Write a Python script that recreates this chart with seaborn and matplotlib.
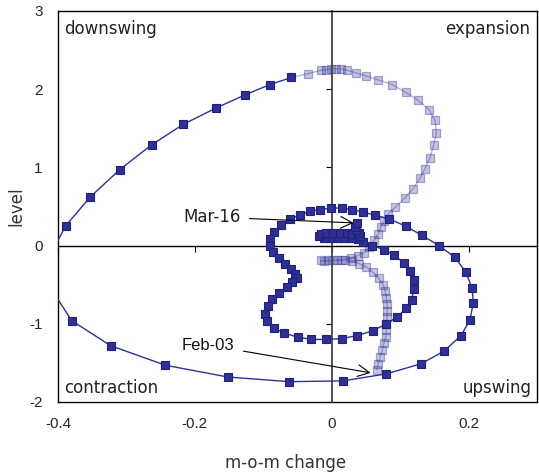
import matplotlib
matplotlib.use("Agg")
import matplotlib.pyplot as plt
import seaborn as sns
import pandas as pd

# ---------------- data ----------------
light_x = [0.066, 0.068, 0.0705, 0.074, 0.076, 0.079, 0.080, 0.080, 0.081, 0.081, 0.081,
           0.080, 0.078, 0.075, 0.069, 0.060, 0.050, 0.040, 0.030, 0.020, 0.008, -0.005,
           -0.016, -0.012, 0.002, 0.015, 0.028, 0.038, 0.047, 0.055, 0.062, 0.068, 0.072,
           0.077, 0.082, 0.093, 0.107, 0.119, 0.129, 0.136, 0.1435, 0.149, 0.153, 0.151,
           0.142, 0.126, 0.108, 0.088, 0.068, 0.050, 0.035, 0.023, 0.013, 0.006, -0.0015,
           -0.008, -0.016, -0.034]
light_y = [-1.59, -1.51, -1.43, -1.34, -1.25, -1.17, -1.08, -1.00, -0.91, -0.83, -0.75,
           -0.67, -0.58, -0.50, -0.42, -0.34, -0.27, -0.23, -0.20, -0.18, -0.19, -0.19,
           -0.19, -0.20, -0.19, -0.18, -0.16, -0.13, -0.09, -0.02, 0.07, 0.15, 0.24,
           0.32, 0.40, 0.49, 0.61, 0.73, 0.86, 0.98, 1.12, 1.29, 1.44, 1.60,
           1.74, 1.86, 1.96, 2.06, 2.12, 2.17, 2.21, 2.24, 2.26, 2.26, 2.26,
           2.25, 2.24, 2.20]

dark_x = [-0.059, -0.090, -0.126, -0.169, -0.217, -0.263, -0.310, -0.353, -0.389, -0.425,
          -0.380, -0.323, -0.243, -0.152, -0.062, 0.0165, 0.080, 0.131, 0.164, 0.189,
          0.202, 0.207, 0.205, 0.196, 0.180, 0.157, 0.132, 0.108, 0.084, 0.063,
          0.045, 0.030, 0.0146, -0.0015, -0.017, -0.032, -0.046, -0.061, -0.074, -0.084,
          -0.090, -0.090, -0.086, -0.077, -0.068, -0.059, -0.053, -0.051, -0.058, -0.066,
          -0.077, -0.087, -0.093, -0.097, -0.094, -0.085, -0.069, -0.050, -0.030, -0.008,
          0.015, 0.037, 0.060, 0.080, 0.096, 0.109, 0.117, 0.120, 0.120, 0.114,
          0.105, 0.091, 0.076, 0.059, 0.045, 0.038, 0.028, 0.018, 0.008, -0.002,
          -0.012, -0.018, -0.016, -0.008, 0.002, 0.012, 0.022, 0.030, 0.038, 0.042,
          0.040, 0.036, 0.034, 0.037]
dark_y = [2.15, 2.06, 1.93, 1.76, 1.55, 1.29, 0.97, 0.62, 0.25, -0.35,
          -0.96, -1.28, -1.53, -1.68, -1.74, -1.73, -1.64, -1.51, -1.35, -1.15,
          -0.95, -0.73, -0.54, -0.34, -0.15, 0.00, 0.13, 0.25, 0.34, 0.39,
          0.43, 0.46, 0.48, 0.48, 0.46, 0.44, 0.39, 0.34, 0.26, 0.17,
          0.09, 0.00, -0.08, -0.16, -0.23, -0.30, -0.36, -0.41, -0.46, -0.53,
          -0.61, -0.68, -0.77, -0.87, -0.97, -1.05, -1.12, -1.17, -1.20, -1.20,
          -1.19, -1.15, -1.09, -1.00, -0.91, -0.80, -0.69, -0.56, -0.44, -0.32,
          -0.22, -0.12, -0.05, 0.00, 0.05, 0.09, 0.10, 0.10, 0.10, 0.10,
          0.10, 0.12, 0.15, 0.16, 0.165, 0.165, 0.16, 0.15, 0.14, 0.12,
          0.16, 0.20, 0.24, 0.29]

x_ticks = [-0.4, -0.2, 0, 0.2]
x_tick_labels = ["-0.4", "-0.2", "0", "0.2"]
y_ticks = [-2, -1, 0, 1, 2, 3]
y_tick_labels = ["-2", "-1", "0", "1", "2", "3"]

quadrants = {"downswing": (0.012, 0.940, "left"),
             "expansion": (0.985, 0.940, "right"),
             "contraction": (0.012, 0.023, "left"),
             "upswing": (0.989, 0.023, "right")}

start_label, end_label = "Feb-03", "Mar-16"

light_df = pd.DataFrame({"x": light_x, "y": light_y})
dark_df = pd.DataFrame({"x": dark_x, "y": dark_y})
conn_df = pd.DataFrame({"x": [light_x[-1], dark_x[0]], "y": [light_y[-1], dark_y[0]]})

# ---------------- style ----------------
sns.set_theme(style="white")
plt.rcParams["font.family"] = ["DejaVu Sans"]

navy = "#2E3192"
navy_edge = "#1E1F7E"
light_face = (0.18, 0.19, 0.57, 0.28)
light_edge = (0.18, 0.19, 0.57, 0.38)
light_line = (0.18, 0.19, 0.57, 0.35)

fig = plt.figure(figsize=(5.39, 4.74), dpi=100)
ax = fig.add_axes([0.1076, 0.1519, 0.9963 - 0.1076, 0.9768 - 0.1519])
ax.set_xlim(-0.4, 0.3)
ax.set_ylim(-2, 3)

# light (earlier) series
sns.lineplot(data=conn_df, x="x", y="y", sort=False, estimator=None, ax=ax,
             color=light_line, lw=1.0, zorder=2)
sns.lineplot(data=light_df, x="x", y="y", sort=False, estimator=None, ax=ax,
             color=light_line, lw=1.0, marker="s", markersize=6.2,
             markerfacecolor=light_face, markeredgecolor=light_edge,
             markeredgewidth=0.9, zorder=2)
# dark series
sns.lineplot(data=dark_df, x="x", y="y", sort=False, estimator=None, ax=ax,
             color=navy, lw=1.0, marker="s", markersize=6.2,
             markerfacecolor=navy, markeredgecolor=navy_edge,
             markeredgewidth=0.8, zorder=3)

# axes through zero with small ticks, labels at the frame
ax.spines["left"].set_position(("data", 0))
ax.spines["bottom"].set_position(("data", 0))
ax.spines["left"].set_color("#444444")
ax.spines["left"].set_linewidth(1.3)
ax.spines["bottom"].set_color("black")
ax.spines["bottom"].set_linewidth(1.0)
for s in ["top", "right"]:
    ax.spines[s].set_color("black")
    ax.spines[s].set_linewidth(1.0)
ax.set_xticks(x_ticks)
ax.set_yticks(y_ticks)
ax.tick_params(axis="both", which="both", direction="out", length=4, width=0.8,
               color="black", labelleft=False, labelbottom=False,
               left=True, bottom=True)
ax.set_xlabel("")
ax.set_ylabel("")

secx = ax.secondary_xaxis("bottom")
secx.set_xticks(x_ticks, x_tick_labels)
secx.tick_params(length=0, pad=11, labelsize=11)
secx.spines["bottom"].set_color("black")
secx.spines["bottom"].set_linewidth(1.0)
for lab in secx.get_xticklabels():
    lab.set_fontfamily("Liberation Sans")

secy = ax.secondary_yaxis("left")
secy.set_yticks(y_ticks, y_tick_labels)
secy.tick_params(length=0, pad=11, labelsize=11)
secy.spines["left"].set_color("black")
secy.spines["left"].set_linewidth(1.0)
for lab in secy.get_yticklabels():
    lab.set_fontfamily("Liberation Sans")

fig.text(0.529, 0.023, "m-o-m change", ha="center", va="center", fontsize=12,
         color="#333333")
fig.text(0.030, 0.565, "level", ha="center", va="center", rotation=90,
         fontsize=12, color="#333333")

for name, (qx, qy, ha) in quadrants.items():
    ax.text(qx, qy, name, transform=ax.transAxes, ha=ha, va="baseline",
            fontsize=12, color="#222222")

arrow = dict(arrowstyle="->,head_length=0.7,head_width=0.35", color="black",
             lw=0.8, shrinkA=4, shrinkB=1)
ax.annotate(end_label, xy=(dark_x[-1] - 0.003, dark_y[-1]), xytext=(-0.133, 0.365),
            ha="right", va="center", fontsize=12, color="#222222",
            arrowprops=arrow, zorder=5)
ax.annotate(start_label, xy=(light_x[0] - 0.007, light_y[0] - 0.04),
            xytext=(-0.142, -1.273), ha="right", va="center", fontsize=12,
            color="#111111", family="Liberation Sans", arrowprops=arrow, zorder=5)

fig.savefig("out.png", dpi=100)
